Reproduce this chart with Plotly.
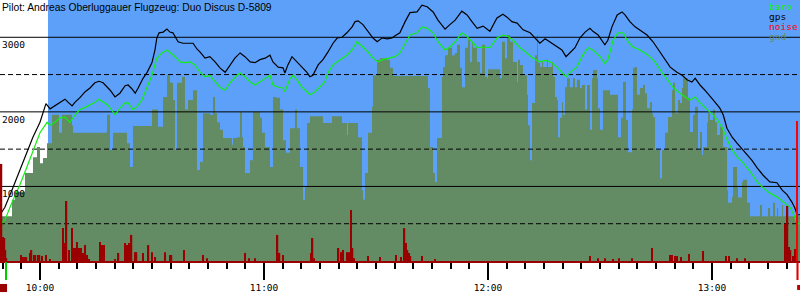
import numpy as np
import pandas as pd
import plotly.graph_objects as go

# ---------------- data (time = minutes after 10:00, altitude in m) ----------------
BASE = "2011-07-16 10:00:00"
T_START, T_END = -10.71, 203.57          # visible time window
SKY_START = 2.14                          # start of sky shading
TAKEOFF, LANDING = -9.1, 202.9

gps = [(-10.7,620),(-9.4,720),(-7.2,990),(-5.4,1220),(-3.5,1450),(-1.9,1660),(0.0,1860),(1.6,2110),
       (2.7,2040),(4.0,2080),(5.4,2120),(6.7,2170),(7.5,2130),(8.6,2080),(9.4,2130),(10.7,2190),
       (12.1,2270),(13.4,2320),(14.7,2390),(15.8,2410),(16.9,2390),(18.0,2330),(18.8,2290),(20.1,2200),
       (21.4,2250),(22.8,2350),(23.6,2360),(24.6,2310),(25.5,2250),(26.3,2320),(27.6,2450),(28.7,2530),
       (30.0,2660),(30.8,2830),(31.3,2990),(31.9,3060),(33.0,3070),(34.0,3110),(34.8,3070),(35.6,3060),
       (37.0,2940),(38.3,2920),(39.6,2920),(41.0,2920),(42.1,2840),(42.9,2800),(44.2,2720),(45.5,2740),
       (46.9,2670),(48.2,2590),(49.6,2530),(50.9,2630),(52.2,2720),(53.6,2790),(54.9,2740),(56.3,2670),
       (57.6,2660),(58.9,2700),(60.3,2720),(61.6,2760),(62.4,2670),(63.8,2600),(65.1,2590),(65.6,2520),
       (66.4,2630),(67.5,2740),(68.8,2670),(70.2,2590),(71.5,2530),(72.3,2470),(73.1,2490),(74.5,2630),
       (75.8,2700),(77.1,2800),(78.5,2920),(79.6,2990),(80.9,3000),(82.2,3060),(83.6,3140),(84.4,3210),
       (85.2,3220),(86.5,3170),(87.9,3070),(89.2,2990),(90.3,2940),(91.6,2990),(93.0,2980),(94.3,2990),
       (95.1,3020),(96.4,3060),(97.8,3210),(99.1,3330),(101.0,3340),(102.3,3430),(103.7,3410),(105.3,3340),
       (106.6,3230),(108.5,3110),(109.8,3170),(111.2,3230),(113.0,3350),(114.4,3300),(115.7,3210),(117.1,3120),
       (118.7,3150),(120.5,3080),(122.4,3260),(124.0,3310),(125.1,3270),(126.4,3210),(127.8,3190),(129.4,3100),
       (131.3,3060),(132.6,2990),(133.9,2920),(135.3,2980),(136.6,2940),(138.5,2870),(139.8,2830),(140.9,2740),
       (142.0,2800),(143.3,2860),(144.6,2990),(146.0,3070),(147.3,3120),(148.1,3080),(149.5,3030),(150.0,2990),
       (151.3,2900),(152.1,2960),(153.2,3140),(154.6,3300),(155.9,3340),(156.7,3300),(158.0,3210),(159.4,3140),
       (160.7,3100),(162.6,3030),(164.2,2940),(166.1,2800),(167.4,2700),(168.8,2600),(170.6,2530),(172.0,2490),
       (173.3,2430),(174.6,2400),(175.5,2450),(176.8,2360),(178.1,2290),(179.5,2200),(180.8,2130),(182.1,2050),
       (183.0,1960),(184.0,1780),(185.4,1660),(186.7,1580),(188.3,1490),(189.4,1420),(190.7,1350),(192.1,1250),
       (193.7,1150),(195.5,1060),(197.4,1050),(198.8,950),(200.1,890),(201.4,790),(202.2,710),(202.8,620),
       (203.6,620)]

baro = [(-10.7,480),(-9.4,550),(-7.2,820),(-5.4,1020),(-3.5,1260),(-1.9,1460),(0.0,1720),(1.9,1860),
        (2.7,1820),(4.0,1860),(5.4,1920),(6.7,1930),(8.0,1860),(9.4,1960),(10.7,2030),(12.1,2060),
        (13.4,2090),(14.7,2130),(15.8,2170),(16.9,2130),(18.2,2090),(20.1,1960),(21.4,2050),(22.8,2120),
        (23.6,2120),(24.9,2030),(26.0,2070),(27.3,2160),(28.7,2330),(30.0,2490),(31.3,2720),(32.7,2790),
        (34.0,2830),(34.8,2800),(36.2,2740),(37.5,2670),(38.8,2660),(40.2,2670),(41.5,2630),(42.9,2530),
        (44.2,2470),(45.5,2490),(46.9,2400),(48.2,2330),(49.6,2290),(50.9,2390),(52.8,2490),(53.6,2520),
        (54.9,2470),(56.3,2400),(57.6,2360),(58.9,2400),(60.3,2450),(61.6,2490),(62.4,2360),(63.8,2330),
        (65.1,2320),(65.6,2270),(67.0,2450),(67.8,2490),(68.8,2430),(70.2,2330),(71.5,2270),(72.3,2230),
        (73.7,2270),(75.0,2330),(76.3,2400),(77.1,2520),(78.5,2630),(80.4,2700),(82.2,2760),(83.6,2830),
        (84.9,2940),(86.5,2870),(87.9,2800),(89.2,2720),(90.5,2670),(91.9,2700),(93.8,2720),(95.1,2740),
        (96.4,2790),(97.8,2920),(99.1,3030),(101.0,3060),(102.3,3140),(103.7,3120),(105.3,3060),(106.6,2940),
        (108.5,2830),(109.8,2870),(111.2,2940),(113.0,3060),(114.4,3010),(115.7,2940),(117.1,2860),(118.7,2870),
        (120.5,2860),(122.4,2990),(124.0,3030),(125.4,3010),(126.7,2960),(128.6,2860),(130.5,2790),(132.1,2720),
        (133.9,2670),(135.3,2690),(136.6,2670),(138.5,2600),(139.8,2530),(140.9,2470),(142.0,2530),(143.8,2600),
        (145.4,2760),(146.8,2860),(148.1,2830),(149.5,2760),(150.0,2740),(151.3,2650),(152.1,2700),(153.5,2960),
        (154.8,3060),(156.2,3060),(157.5,2940),(158.8,2870),(160.7,2830),(162.9,2760),(164.7,2670),(166.6,2530),
        (168.0,2430),(169.6,2330),(171.4,2250),(172.8,2200),(174.1,2160),(175.5,2200),(176.8,2120),(178.7,2030),
        (180.3,1960),(181.6,1880),(182.9,1770),(184.0,1630),(185.4,1490),(186.7,1400),(188.3,1320),(190.2,1200),
        (192.1,1060),(193.7,980),(195.5,910),(197.4,860),(199.0,790),(200.9,720),(202.2,590),(202.8,500),
        (203.6,500)]

ground = [(-10.71,600),(-7.50,820),(-6.70,930),(-4.02,1180),(-1.88,1390),(-0.80,1530),(0.00,1310),(0.80,1380),
          (1.88,1580),(3.21,1960),(5.09,1720),(5.89,1960),(8.57,1820),(8.84,1720),(17.95,1960),(18.75,1490),
          (19.55,1720),(23.30,1580),(24.11,1260),(24.91,1810),(30.00,2030),(31.61,1800),(32.95,2200),(34.02,2490),
          (34.82,2390),(35.63,2160),(36.16,1490),(36.70,2390),(38.04,2470),(38.84,2030),(39.64,2160),(40.98,2290),
          (42.05,1220),(42.86,1330),(43.66,1980),(45.54,1960),(46.34,2200),(46.88,1980),(47.41,1860),(48.21,1760),
          (49.02,1650),(51.43,1560),(51.70,1650),(52.77,1660),(53.57,2000),(54.11,1660),(54.38,1530),(54.91,1180),
          (56.25,1350),(57.05,2000),(58.93,1920),(59.46,1720),(60.27,1530),(61.61,1260),(62.41,2200),(63.21,2190),
          (64.29,2030),(65.09,1620),(65.89,1450),(66.96,1780),(68.30,2030),(68.84,1780),(69.64,1260),(70.45,820),
          (70.98,990),(71.52,1850),(72.32,1940),(75.80,1850),(78.21,1940),(80.89,1850),(82.23,1690),(82.50,1850),
          (85.18,1660),(86.25,950),(86.52,820),(87.05,1180),(87.86,1720),(88.93,2070),(89.20,2490),(90.27,2700),
          (91.07,2720),(92.95,2700),(93.75,2590),(94.55,2480),(103.93,2320),(104.46,1530),(105.27,1180),(105.80,1060),
          (106.34,1650),(107.68,2470),(107.95,2600),(108.48,2760),(109.29,2860),(110.36,2760),(111.16,2790),(111.70,2900),
          (112.50,2590),(113.04,2330),(113.84,2860),(114.64,2990),(115.18,2670),(115.71,2940),(115.98,2860),(117.05,2670),
          (117.86,2520),(118.39,2900),(119.20,2470),(119.73,2450),(120.00,2570),(123.21,2450),(123.75,2940),(124.55,2720),
          (125.09,3030),(125.89,2940),(126.70,2670),(127.77,2400),(128.04,2700),(128.57,2630),(129.38,2490),(130.45,2230),
          (130.71,1820),(131.25,1350),(131.79,2120),(132.59,2760),(133.13,3030),(133.39,2660),(133.93,2600),(134.46,2670),
          (134.73,2600),(135.80,2700),(136.07,2600),(137.14,2670),(137.41,2470),(137.95,2200),(138.48,2160),(138.75,1660),
          (139.29,1920),(139.82,2130),(140.09,1960),(140.63,2330),(141.16,2450),(141.96,2330),(142.77,2450),(143.30,2330),
          (143.84,2430),(144.64,2320),(145.18,2360),(145.98,2030),(146.52,2360),(147.32,1760),(147.86,2450),(148.13,2560),
          (149.20,2450),(149.46,2050),(150.00,1760),(150.80,2290),(152.68,2230),(154.82,1660),(155.63,1920),(156.16,2400),
          (156.96,1890),(157.50,1460),(158.57,2030),(158.84,2590),(159.38,2600),(159.91,2230),(160.71,2320),(161.52,2360),
          (162.05,2250),(162.59,2050),(163.39,2130),(163.93,1980),(164.20,1930),(164.73,1490),(166.07,1110),(166.61,1490),
          (167.41,1720),(168.21,1930),(169.29,2290),(169.55,2390),(170.09,1980),(170.89,2160),(171.43,2120),(171.96,2320),
          (172.23,2450),(173.57,2190),(174.11,1730),(174.91,1960),(175.45,2070),(176.25,1490),(176.79,1730),(177.32,1420),
          (177.59,1530),(178.66,1860),(178.93,1980),(179.46,1890),(180.27,2030),(180.80,1860),(181.34,1690),(182.14,1800),
          (182.95,1530),(184.02,950),(184.29,780),(185.36,860),(185.63,1260),(186.70,990),(186.96,850),(188.04,1060),
          (188.30,1090),(189.38,780),(190.18,600),(192.86,750),(193.39,600),(195.00,710),(195.54,600),(196.34,780),
          (196.88,600),(197.41,710),(197.68,600),(198.75,750),(199.02,600),(203.57,600)]

# engine noise level (0..1000 scale)
noise = [(-10.45,92),(-10.31,372),(-9.91,92),(-9.51,88),(-9.24,42),(-8.97,11),(-5.09,23),(-4.55,15),
         (-4.02,15),(-3.62,15),(-2.68,31),(-2.28,42),(-1.61,23),(-1.21,23),(-0.54,23),(-0.13,23),
         (0.54,19),(1.61,23),(2.68,8),(6.16,126),(6.70,69),(7.10,230),(7.77,42),(8.57,126),
         (9.11,50),(9.51,50),(9.91,73),(10.45,50),(10.98,50),(11.52,31),(12.05,61),(12.59,23),
         (13.13,8),(16.07,73),(16.61,61),(17.14,61),(20.09,8),(21.03,31),(22.77,69),(23.30,61),
         (23.84,69),(24.51,100),(25.45,34),(25.85,34),(27.59,31),(29.06,61),(30.00,34),(30.80,15),
         (33.48,34),(34.82,23),(35.22,23),(38.57,42),(43.66,23),(44.73,11),(54.91,31),(55.98,11),
         (57.59,11),(63.62,100),(64.15,31),(65.09,23),(72.59,31),(72.99,88),(73.39,11),(79.96,50),
         (80.76,34),(81.16,42),(82.37,34),(82.77,34),(83.30,195),(83.71,50),(84.11,11),(87.86,19),
         (91.07,15),(95.36,23),(96.70,15),(97.63,126),(98.04,69),(98.44,42),(98.84,31),(99.24,19),
         (102.32,19),(105.80,8),(147.32,19),(149.46,11),(151.34,11),(153.48,8),(155.09,11),(158.57,11),
         (163.93,50),(168.75,23),(169.29,23),(170.09,19),(170.63,19),(171.70,15),(173.84,27),(177.59,38),
         (183.75,19),(184.55,19),(186.70,11),(188.84,11),(199.69,142),(200.22,211),(200.63,54),(201.03,42),
         (201.70,19),(202.37,46)]
noise_peak = [(202.77, 536)]

grid_solid = [1000, 2000, 3000]
grid_dashed = [500, 1500, 2500]
alt_labels = [1000, 2000, 3000]
title_text = "Pilot: Andreas Oberluggauer Flugzeug: Duo Discus D-5809"

# ---------------- styles ----------------
SKY = "#5ca0fa"
GND = "#648c64"
NOISE_DARK = "#9b0000"
NOISE_RED = "#ff0000"
BARO = "#12ee12"
GPS = "#000000"
MONO = "DejaVu Sans Mono"

legend_items = [("baro", BARO), ("gps", GPS), ("noise", NOISE_RED), ("gnd", GND)]

base = pd.Timestamp(BASE)
def tm(v):
    return base + pd.to_timedelta(np.asarray(v, dtype=float), unit="min")
def xpaper(t):
    return (t - T_START) / (T_END - T_START)

def split(pairs):
    a = np.array(pairs, dtype=float)
    return a[:, 0], a[:, 1]

fig = go.Figure()

gt, ga = split(ground)
fig.add_trace(go.Scatter(x=tm(gt), y=ga, mode="lines", line=dict(width=0, shape="hv", color=GND),
                         fill="tozeroy", fillcolor=GND, hoverinfo="skip", showlegend=False))

xr = tm([T_START, T_END])
for v in grid_solid:
    fig.add_trace(go.Scatter(x=xr, y=[v, v], mode="lines", line=dict(color="black", width=1),
                             hoverinfo="skip", showlegend=False))
for v in grid_dashed:
    fig.add_trace(go.Scatter(x=xr, y=[v, v], mode="lines", line=dict(color="black", width=1, dash="5px,3px"),
                             hoverinfo="skip", showlegend=False))

bt, ba = split(baro)
fig.add_trace(go.Scatter(x=tm(bt), y=ba, mode="lines", line=dict(color=BARO, width=1.2),
                         hoverinfo="skip", showlegend=False))
pt, pa = split(gps)
fig.add_trace(go.Scatter(x=tm(pt), y=pa, mode="lines", line=dict(color=GPS, width=1.2),
                         hoverinfo="skip", showlegend=False))

nt, nv = split(noise)
fig.add_trace(go.Bar(x=tm(nt), y=nv, width=24000, yaxis="y2", marker=dict(color=NOISE_DARK, line=dict(width=0)),
                     hoverinfo="skip", showlegend=False))
kt, kv = split(noise_peak)
fig.add_trace(go.Bar(x=tm(kt), y=kv, width=30000, yaxis="y2", marker=dict(color=NOISE_RED, line=dict(width=0)),
                     hoverinfo="skip", showlegend=False))

shapes = [
    dict(type="rect", xref="x", yref="paper", x0=tm([SKY_START])[0], x1=tm([T_END])[0], y0=0, y1=1,
         fillcolor=SKY, line=dict(width=0), layer="below"),
    dict(type="rect", xref="paper", yref="paper", x0=xpaper(TAKEOFF) - 0.0013, x1=xpaper(TAKEOFF) + 0.0013,
         y0=-0.073, y1=-0.004, fillcolor="#00cc00", line=dict(width=0)),
    dict(type="rect", xref="paper", yref="paper", x0=xpaper(LANDING) - 0.0013, x1=xpaper(LANDING) + 0.0013,
         y0=-0.073, y1=-0.004, fillcolor="#e00000", line=dict(width=0)),
    dict(type="rect", xref="paper", yref="paper", x0=0, x1=xpaper(TAKEOFF) + 0.0013,
         y0=-0.119, y1=-0.088, fillcolor="#9b0000", line=dict(width=0)),
    dict(type="rect", xref="paper", yref="paper", x0=xpaper(LANDING) - 0.0005, x1=1,
         y0=-0.111, y1=-0.092, fillcolor="#c00000", line=dict(width=0)),
]

annotations = [dict(x=0, y=1, xref="paper", yref="paper", xanchor="left", yanchor="top", showarrow=False,
                    text=title_text, font=dict(family="Liberation Sans", size=10.3, color="black"))]
for v in alt_labels:
    annotations.append(dict(x=0, y=v, xref="paper", yref="y", xanchor="left", yanchor="top", showarrow=False,
                            text=str(v), font=dict(family=MONO, size=9.5, color="black")))
for i, (name, col) in enumerate(legend_items):
    annotations.append(dict(x=0.959, y=1 - (6.5 + 10 * i) / 261, xref="paper", yref="paper", xanchor="left",
                            yanchor="middle", showarrow=False, text=name,
                            font=dict(family=MONO, size=9.5, color=col)))

fig.update_layout(
    width=800, height=300, margin=dict(l=0, r=0, t=0, b=39),
    paper_bgcolor="white", plot_bgcolor="white", showlegend=False, barmode="overlay",
    shapes=shapes, annotations=annotations,
    xaxis=dict(type="date", range=[xr[0], xr[1]], showgrid=False, zeroline=False,
               ticks="outside", ticklen=17, tickwidth=1.5, tickcolor="black",
               tick0=BASE, dtick=3600000, tickformat="%H:%M",
               tickfont=dict(family=MONO, size=9.5, color="black"),
               showline=True, linecolor=NOISE_DARK, linewidth=2,
               minor=dict(tick0=BASE, dtick=300000, ticks="outside", ticklen=6, tickwidth=1.5, tickcolor="black"),
               fixedrange=True),
    yaxis=dict(range=[0, 3500], visible=False, fixedrange=True),
    yaxis2=dict(range=[0, 1000], overlaying="y", visible=False, fixedrange=True),
)

fig.write_html("out.html")
